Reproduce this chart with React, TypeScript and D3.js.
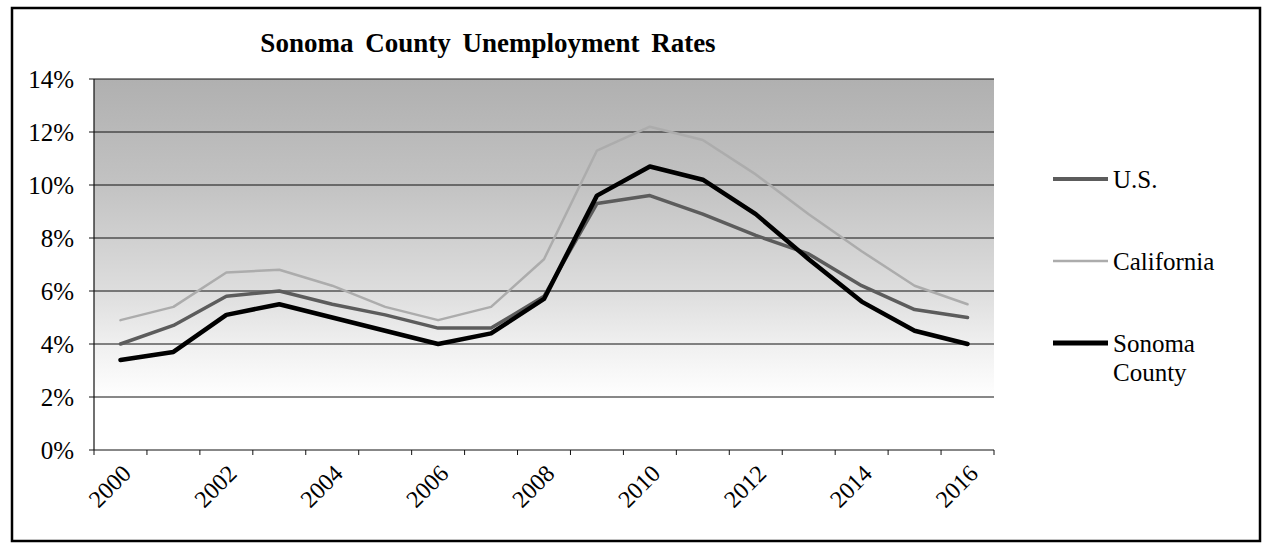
import React, { useEffect } from "react";
import * as d3 from "d3";

const years = [
  "2000", "2001", "2002", "2003", "2004", "2005", "2006", "2007", "2008",
  "2009", "2010", "2011", "2012", "2013", "2014", "2015", "2016",
];
const usRates = [4.0, 4.7, 5.8, 6.0, 5.5, 5.1, 4.6, 4.6, 5.8, 9.3, 9.6, 8.9, 8.1, 7.4, 6.2, 5.3, 5.0];
const caRates = [4.9, 5.4, 6.7, 6.8, 6.2, 5.4, 4.9, 5.4, 7.2, 11.3, 12.2, 11.7, 10.4, 8.9, 7.5, 6.2, 5.5];
const sonomaRates = [3.4, 3.7, 5.1, 5.5, 5.0, 4.5, 4.0, 4.4, 5.7, 9.6, 10.7, 10.2, 8.9, 7.2, 5.6, 4.5, 4.0];
const yTicks = [0, 2, 4, 6, 8, 10, 12, 14];
const labelYears = years.filter((_, i) => i % 2 === 0);

const series = [
  { name: ["U.S."], values: usRates, color: "#5c5c5c", width: 3.5, legendWidth: 4 },
  { name: ["California"], values: caRates, color: "#acacac", width: 2.5, legendWidth: 2.5 },
  { name: ["Sonoma", "County"], values: sonomaRates, color: "#000", width: 4.5, legendWidth: 5 },
];

const FONT = "Liberation Serif, Times New Roman, Times, serif";

export default function App() {
  useEffect(() => {
    document.body.style.margin = "0";
  }, []);

  const width = 1262;
  const height = 544;
  const plot = { left: 94, right: 994, top: 79, bottom: 450 };

  const x = d3.scaleBand().domain(years).range([plot.left, plot.right]);
  const y = d3.scaleLinear().domain([0, 14]).range([plot.bottom, plot.top]);
  const cx = (yr: string) => (x(yr) as number) + x.bandwidth() / 2;

  const line = d3
    .line<number>()
    .x((_, i) => cx(years[i]))
    .y((d) => y(d));

  const legendY = [179, 261, 343];
  const txt = { fontFamily: FONT };

  return (
    <svg width={width} height={height} style={{ position: "absolute", left: 0, top: 0, background: "#fff", fontFamily: FONT }}>
      <defs>
        <linearGradient id="bg" x1="0" y1="0" x2="0" y2="1">
          <stop offset="0%" stopColor="#b0b0b0" />
          <stop offset="28%" stopColor="#c2c2c2" />
          <stop offset="57%" stopColor="#dddddd" />
          <stop offset="72%" stopColor="#f0f0f0" />
          <stop offset="86%" stopColor="#ffffff" />
          <stop offset="100%" stopColor="#ffffff" />
        </linearGradient>
      </defs>

      {/* outer frame */}
      <rect x={12} y={8} width={1248} height={533} fill="none" stroke="#000" strokeWidth={2.5} />

      <text x={488} y={52} textAnchor="middle" style={txt} fontWeight="bold" fontSize={27} wordSpacing={5}>
        Sonoma County Unemployment Rates
      </text>

      <rect
        x={plot.left}
        y={plot.top}
        width={plot.right - plot.left}
        height={plot.bottom - plot.top}
        fill="url(#bg)"
      />

      {/* gridlines + y axis labels */}
      {yTicks.map((t) => (
        <g key={t}>
          <line x1={plot.left - 5} x2={plot.right} y1={y(t)} y2={y(t)} stroke="#111" strokeWidth={1} />
          <text x={74} y={y(t)} dy="0.35em" textAnchor="end" style={txt} fontSize={25}>
            {t}%
          </text>
        </g>
      ))}
      <line x1={plot.left} x2={plot.left} y1={plot.top} y2={plot.bottom} stroke="#111" strokeWidth={1.2} />

      {/* x ticks at category boundaries */}
      {years.concat(["end"]).map((yr, i) => {
        const xp = plot.left + i * x.bandwidth();
        return <line key={yr} x1={xp} x2={xp} y1={plot.bottom} y2={plot.bottom + 5} stroke="#111" strokeWidth={1} />;
      })}
      {labelYears.map((yr) => (
        <text
          key={yr}
          transform={`translate(${cx(yr) + 6},${plot.bottom + 19}) rotate(-45)`}
          textAnchor="end"
          dy="0.35em"
          style={txt}
          fontSize={24}
        >
          {yr}
        </text>
      ))}

      {/* series lines */}
      {series.map((s) => (
        <path
          key={s.name.join(" ")}
          d={line(s.values) as string}
          fill="none"
          stroke={s.color}
          strokeWidth={s.width}
          strokeLinejoin="round"
          strokeLinecap="round"
        />
      ))}

      {/* legend */}
      {series.map((s, i) => (
        <g key={s.name.join(" ")}>
          <line x1={1053} x2={1108} y1={legendY[i]} y2={legendY[i]} stroke={s.color} strokeWidth={s.legendWidth} />
          {s.name.map((n, j) => (
            <text key={n} x={1113} y={legendY[i] + j * 29} dy="0.35em" style={txt} fontSize={25}>
              {n}
            </text>
          ))}
        </g>
      ))}
    </svg>
  );
}
